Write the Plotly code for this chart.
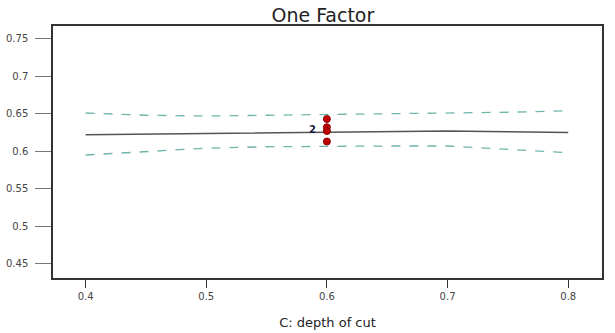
import plotly.graph_objects as go

# Data
x_curve = [0.4, 0.45, 0.5, 0.55, 0.6, 0.65, 0.7, 0.75, 0.8]
predicted = [0.622, 0.623, 0.624, 0.625, 0.626, 0.627, 0.627, 0.626, 0.625]
upper_ci = [0.651, 0.648, 0.647, 0.648, 0.649, 0.649, 0.650, 0.652, 0.654]
lower_ci = [0.595, 0.600, 0.604, 0.606, 0.607, 0.607, 0.607, 0.603, 0.598]

design_x = [0.6, 0.6, 0.6, 0.6]
design_y = [0.643, 0.632, 0.627, 0.613]

x_ticks = [0.4, 0.5, 0.6, 0.7, 0.8]
y_ticks = [0.45, 0.5, 0.55, 0.6, 0.65, 0.7, 0.75]

teal = "#6fb5aa"
fig = go.Figure()
fig.add_trace(go.Scatter(x=x_curve, y=upper_ci, mode="lines",
                         line=dict(color=teal, width=1.3, dash="dash"), showlegend=False))
fig.add_trace(go.Scatter(x=x_curve, y=lower_ci, mode="lines",
                         line=dict(color=teal, width=1.3, dash="dash"), showlegend=False))
fig.add_trace(go.Scatter(x=x_curve, y=predicted, mode="lines",
                         line=dict(color="#555555", width=1.3), showlegend=False))
fig.add_trace(go.Scatter(x=design_x, y=design_y, mode="markers",
                         marker=dict(color="#c00000", size=7, line=dict(color="#8b0000", width=1)),
                         showlegend=False))
fig.add_annotation(x=0.6, y=0.629, text="<b>2</b>", showarrow=False, xshift=-14,
                   font=dict(family="DejaVu Sans", size=10, color="#1a1a40"))

axis_common = dict(showgrid=False, zeroline=False, showline=True, mirror=True,
                   linecolor="#333333", linewidth=1.5, ticks="outside", automargin=False,
                   tickfont=dict(family="DejaVu Sans", size=10, color="#444444"))

fig.update_layout(
    width=615, height=333,
    margin=dict(l=53, r=13, t=26, b=55, autoexpand=False),
    plot_bgcolor="white", paper_bgcolor="white",
    title=dict(text="One Factor", x=0.525, xanchor="center", y=0.955, yanchor="middle",
               font=dict(family="DejaVu Sans", size=19, color="#222222")),
    xaxis=dict(range=[0.373, 0.828], tickvals=x_ticks, ticktext=[str(v) for v in x_ticks],
               ticklen=8, tickcolor="#333333",
               title=dict(text="C: depth of cut", standoff=17,
                          font=dict(family="DejaVu Sans", size=13, color="#222222")),
               **axis_common),
    yaxis=dict(range=[0.431, 0.767], tickvals=y_ticks, ticktext=[str(v) for v in y_ticks],
               ticklen=16, tickcolor="#777777", ticklabelstandoff=5, **axis_common),
)

fig.write_html("out.html")
